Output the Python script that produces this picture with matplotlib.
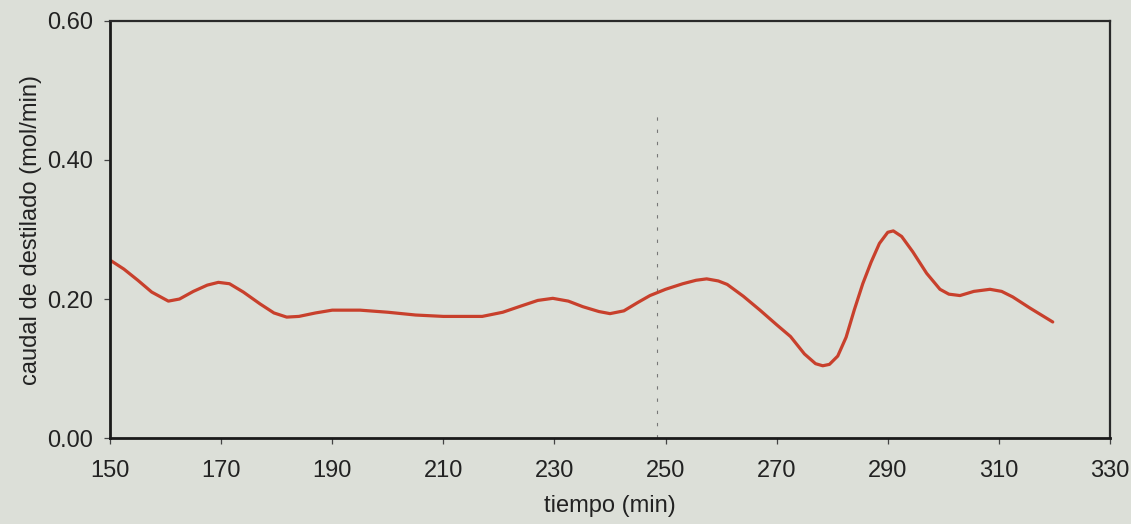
import numpy as np
import matplotlib
matplotlib.use("Agg")
import matplotlib.pyplot as plt

# data
tiempo = [150, 152.5, 155, 157.5, 160.5, 162.5, 165, 167.5, 169.5, 171.5,
          174, 177, 179.5, 181.8, 184, 187, 190, 195, 200, 205, 210, 217,
          220.7, 224, 227, 229.7, 232.5, 235.1, 238, 240, 242.5, 245, 247.2,
          250, 253.1, 255.5, 257.4, 259.5, 261.1, 264, 267, 270, 272.5, 275,
          277, 278.3, 279.5, 281, 282.5, 284, 285.5, 287, 288.5, 290, 291,
          292.5, 294.5, 297, 299.4, 301, 303, 305.5, 308.4, 310.5, 312.5,
          315.6, 319.7]
caudal = [0.256, 0.243, 0.227, 0.210, 0.197, 0.200, 0.211, 0.220, 0.224, 0.222,
          0.210, 0.193, 0.180, 0.174, 0.175, 0.180, 0.184, 0.184, 0.181, 0.177,
          0.175, 0.175, 0.181, 0.190, 0.198, 0.201, 0.197, 0.189, 0.182, 0.179,
          0.183, 0.195, 0.205, 0.214, 0.222, 0.227, 0.229, 0.226, 0.221, 0.204,
          0.184, 0.163, 0.146, 0.121, 0.107, 0.104, 0.106, 0.118, 0.145, 0.185,
          0.222, 0.253, 0.280, 0.296, 0.298, 0.290, 0.268, 0.237, 0.214, 0.207,
          0.205, 0.211, 0.214, 0.211, 0.203, 0.187, 0.167]
marca_t = 248.5
marca_top = 0.465

x_ticks = [150, 170, 190, 210, 230, 250, 270, 290, 310, 330]
y_ticks = [0.0, 0.2, 0.4, 0.6]

bg = '#dcdfd8'
txt = '#222222'
plt.rcParams['font.family'] = ['Liberation Sans', 'DejaVu Sans']

fig = plt.figure(figsize=(11.31, 5.24), dpi=100, facecolor=bg)
ax = fig.add_axes([0.0973, 0.164, 0.8841, 0.796], facecolor=bg)

ax.vlines(marca_t, 0, marca_top, colors='#777777', linewidth=0.8,
          linestyles=(0, (3, 8)))
ax.plot(tiempo, caudal, color='#c8402c', linewidth=2.3,
        solid_capstyle='round', solid_joinstyle='round')

ax.set_xlim(150, 330)
ax.set_ylim(0, 0.6)
ax.set_xticks(x_ticks)
ax.set_yticks(y_ticks)
ax.set_yticklabels([f"{v:.2f}" for v in y_ticks])

for side in ['left', 'bottom']:
    ax.spines[side].set_linewidth(2.0)
    ax.spines[side].set_color('#1a1a1a')
for side in ['top', 'right']:
    ax.spines[side].set_linewidth(1.6)
    ax.spines[side].set_color('#2a2a2a')

ax.tick_params(axis='both', direction='out', length=4, width=0.9,
               color='#444444', labelsize=17, labelcolor=txt)
ax.tick_params(axis='y', pad=8)
ax.tick_params(axis='x', pad=12)

ax.set_xlabel('tiempo (min)', fontsize=17, color=txt, labelpad=9)
ax.set_ylabel('caudal de destilado (mol/min)', fontsize=17, color=txt,
              labelpad=4)

fig.savefig('out.png', dpi=100, facecolor=bg)
